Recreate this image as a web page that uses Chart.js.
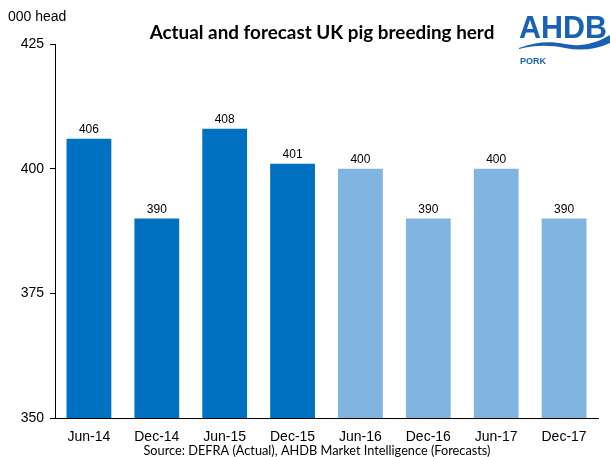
<!DOCTYPE html>
<html>
<head>
<meta charset="utf-8">
<script src="https://cdn.jsdelivr.net/npm/chart.js@4"></script>
<style>
  html, body { margin: 0; padding: 0; background: #fff; }
  #wrap { width: 610px; height: 457px; }
</style>
</head>
<body>
<div id="wrap"><canvas id="c" width="610" height="457"></canvas></div>
<script>
// values
const periods = ['Jun-14', 'Dec-14', 'Jun-15', 'Dec-15', 'Jun-16', 'Dec-16', 'Jun-17', 'Dec-17'];
const herd = [406, 390, 408, 401, 400, 390, 400, 390];
const isForecast = [false, false, false, false, true, true, true, true];
const yTicks = [350, 375, 400, 425];

const ACTUAL = '#0070C0';
const FORECAST = '#7FB5E0';
const LOGO = '#1A61B5';

// fit a string into a given pixel width
function fitFont(ctx, text, weight, family, width) {
    ctx.font = `${weight} 20px ${family}`;
    const size = 20 * width / ctx.measureText(text).width;
    return `${weight} ${size.toFixed(2)}px ${family}`;
}

const labelsPlugin = {
    id: 'labels',
    afterDatasetsDraw(chart) {
        const ctx = chart.ctx;
        const meta = chart.getDatasetMeta(0);
        ctx.save();
        ctx.font = '12px "Liberation Sans", Arial, sans-serif';
        ctx.fillStyle = '#000';
        ctx.textAlign = 'center';
        ctx.textBaseline = 'bottom';
        meta.data.forEach((bar, i) => {
            ctx.fillText(String(herd[i]), bar.x, bar.y - 3);
        });
        ctx.restore();
    }
};

const decorPlugin = {
    id: 'decor',
    afterDraw(chart) {
        const ctx = chart.ctx;
        ctx.save();
        ctx.fillStyle = '#000';
        ctx.textBaseline = 'middle';

        // unit label
        ctx.textAlign = 'left';
        ctx.font = '14px "Liberation Sans", Arial, sans-serif';
        ctx.fillText('000 head', 8, 17);

        // title
        const title = 'Actual and forecast UK pig breeding herd';
        ctx.font = fitFont(ctx, title, 'bold', 'Lato, sans-serif', 345);
        ctx.textAlign = 'center';
        ctx.fillText(title, 322, 33);

        // source line
        const src = 'Source: DEFRA (Actual), AHDB Market Intelligence (Forecasts)';
        ctx.font = fitFont(ctx, src, 'normal', 'Lato, sans-serif', 347);
        ctx.fillText(src, 317, 451);

        // logo
        ctx.fillStyle = LOGO;
        ctx.textAlign = 'left';
        ctx.textBaseline = 'alphabetic';
        ctx.font = fitFont(ctx, 'AHDB', 'bold', '"Liberation Sans Narrow", "Liberation Sans", sans-serif', 88);
        ctx.fillText('AHDB', 519, 38);
        ctx.beginPath();
        ctx.moveTo(519, 48);
        ctx.bezierCurveTo(535, 42, 550, 41, 565, 44);
        ctx.bezierCurveTo(580, 47, 595, 44, 610, 35);
        ctx.lineTo(610, 43);
        ctx.bezierCurveTo(595, 50, 580, 51, 565, 48);
        ctx.bezierCurveTo(550, 45, 535, 45, 519, 49);
        ctx.closePath();
        ctx.fill();
        ctx.font = 'bold 9px "Liberation Sans", Arial, sans-serif';
        ctx.fillText('PORK', 520, 64);
        ctx.restore();
    }
};

new Chart(document.getElementById('c'), {
    type: 'bar',
    plugins: [labelsPlugin, decorPlugin],
    data: {
        labels: periods,
        datasets: [{
            data: herd,
            backgroundColor: isForecast.map(f => f ? FORECAST : ACTUAL),
            borderWidth: 0,
            categoryPercentage: 1,
            barPercentage: 0.66
        }]
    },
    options: {
        responsive: false,
        animation: false,
        devicePixelRatio: 1,
        layout: { padding: { top: 44, right: 12, bottom: 0, left: 0 } },
        plugins: { legend: { display: false }, tooltip: { enabled: false } },
        scales: {
            x: {
                grid: { display: false, drawTicks: false },
                border: { display: true, color: '#000', width: 1 },
                ticks: {
                    color: '#000',
                    font: { size: 14, family: '"Liberation Sans", Arial, sans-serif' },
                    padding: 11,
                    maxRotation: 0
                },
                afterFit(scale) { scale.height = 39; }
            },
            y: {
                min: yTicks[0],
                max: yTicks[yTicks.length - 1],
                afterBuildTicks(scale) { scale.ticks = yTicks.map(v => ({ value: v })); },
                grid: { drawOnChartArea: false, drawTicks: true, tickLength: 5, color: '#000' },
                border: { display: true, color: '#000', width: 1 },
                ticks: {
                    color: '#000',
                    font: { size: 14, family: '"Liberation Sans", Arial, sans-serif' },
                    padding: 6
                },
                afterFit(scale) { scale.width = 55; }
            }
        }
    }
});
</script>
</body>
</html>
